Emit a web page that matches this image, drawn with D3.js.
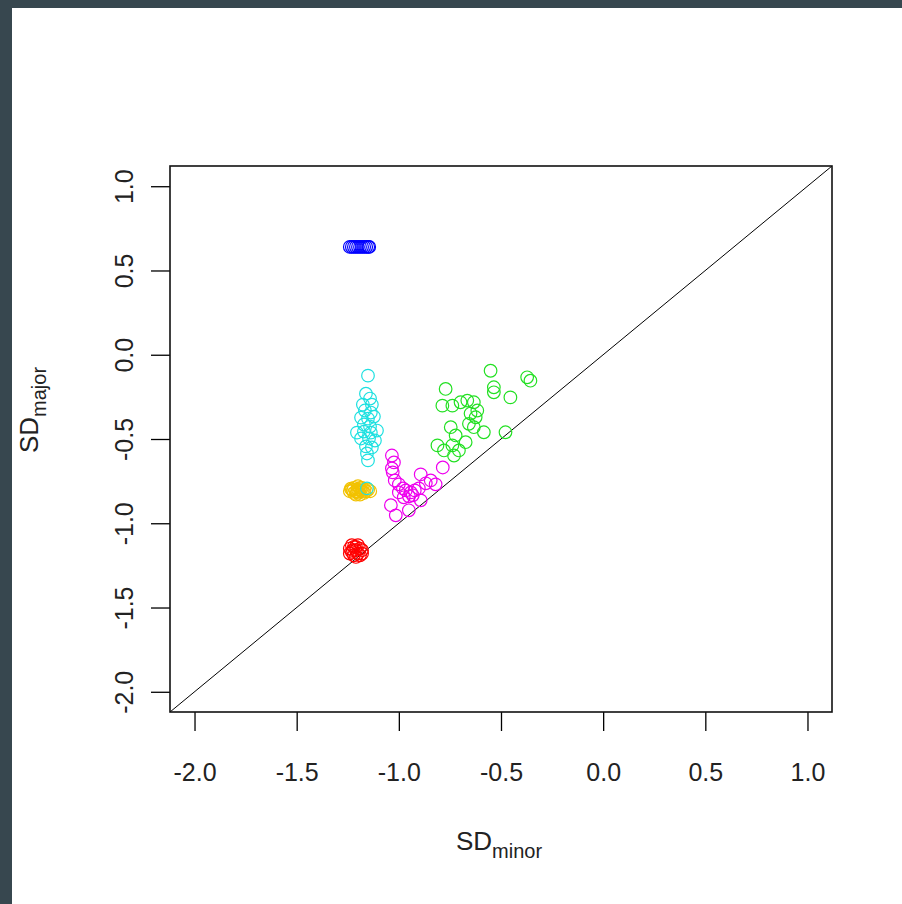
<!DOCTYPE html>
<html>
<head>
<meta charset="utf-8">
<script src="https://cdn.jsdelivr.net/npm/d3@7"></script>
<style>
  html, body { margin: 0; padding: 0; background: #37474f; }
  svg { display: block; }
</style>
</head>
<body>
<script>
// Axis ticks
const xTicks = [-2.0, -1.5, -1.0, -0.5, 0.0, 0.5, 1.0];
const yTicks = [-2.0, -1.5, -1.0, -0.5, 0.0, 0.5, 1.0];

// Groups: [SD_minor, SD_major] pairs
const bluePts = [
  [-1.24, 0.64], [-1.23, 0.64], [-1.22, 0.64], [-1.21, 0.64], [-1.20, 0.64],
  [-1.19, 0.64], [-1.18, 0.64], [-1.17, 0.64], [-1.16, 0.64], [-1.15, 0.64],
  [-1.145, 0.64]
];
const yellowPts = [
  [-1.23, -0.80], [-1.22, -0.79], [-1.21, -0.81], [-1.20, -0.80], [-1.19, -0.79],
  [-1.18, -0.81], [-1.21, -0.83], [-1.19, -0.83], [-1.22, -0.82], [-1.17, -0.80],
  [-1.20, -0.78], [-1.24, -0.81], [-1.16, -0.81], [-1.18, -0.79], [-1.20, -0.82],
  [-1.15, -0.80], [-1.14, -0.81], [-1.17, -0.82], [-1.235, -0.795], [-1.19, -0.805],
  [-1.205, -0.815], [-1.225, -0.805]
];
const redPts = [
  [-1.24, -1.15], [-1.23, -1.17], [-1.22, -1.14], [-1.21, -1.16], [-1.20, -1.13],
  [-1.19, -1.15], [-1.20, -1.18], [-1.22, -1.19], [-1.24, -1.18], [-1.21, -1.20],
  [-1.18, -1.16], [-1.19, -1.19], [-1.23, -1.13], [-1.21, -1.14], [-1.18, -1.18],
  [-1.225, -1.16]
];
const cyanPts = [
  [-1.151, -0.124], [-1.161, -0.231], [-1.141, -0.260], [-1.176, -0.296], [-1.132, -0.296],
  [-1.166, -0.331], [-1.137, -0.343], [-1.185, -0.373], [-1.151, -0.379], [-1.122, -0.367],
  [-1.171, -0.414], [-1.141, -0.426], [-1.205, -0.462], [-1.171, -0.456], [-1.137, -0.462],
  [-1.107, -0.450], [-1.185, -0.497], [-1.146, -0.497], [-1.117, -0.509], [-1.161, -0.544],
  [-1.132, -0.550], [-1.156, -0.586], [-1.151, -0.627], [-1.156, -0.793]
];
const magentaPts = [
  [-1.034, -0.598], [-1.024, -0.639], [-1.034, -0.675], [-1.030, -0.698], [-1.020, -0.746],
  [-1.000, -0.769], [-0.980, -0.793], [-1.000, -0.817], [-0.966, -0.805], [-0.941, -0.817],
  [-0.922, -0.805], [-0.902, -0.793], [-0.932, -0.834], [-0.951, -0.840], [-0.976, -0.846],
  [-0.893, -0.710], [-0.844, -0.746], [-0.820, -0.769], [-0.785, -0.669], [-1.039, -0.893],
  [-1.015, -0.953], [-0.951, -0.923], [-0.893, -0.864], [-0.868, -0.763]
];
const greenPts = [
  [-0.551, -0.095], [-0.372, -0.134], [-0.356, -0.154], [-0.535, -0.193], [-0.535, -0.223],
  [-0.454, -0.253], [-0.771, -0.203], [-0.787, -0.302], [-0.738, -0.302], [-0.698, -0.282],
  [-0.665, -0.272], [-0.633, -0.282], [-0.616, -0.331], [-0.649, -0.349], [-0.624, -0.371],
  [-0.657, -0.410], [-0.633, -0.430], [-0.584, -0.460], [-0.478, -0.460], [-0.746, -0.430],
  [-0.722, -0.479], [-0.811, -0.538], [-0.779, -0.568], [-0.738, -0.538], [-0.706, -0.568],
  [-0.673, -0.519], [-0.730, -0.598]
];

const groups = [
  { pts: bluePts, color: "#0000ff" },
  { pts: yellowPts, color: "#f2c200" },
  { pts: redPts, color: "#ff0000" },
  { pts: cyanPts, color: "#1de0e0" },
  { pts: magentaPts, color: "#ee00ee" },
  { pts: greenPts, color: "#22e022" }
];

const W = 902, H = 904;
const plot = { left: 170, right: 832, top: 166, bottom: 712 };
const lim = [-2.12, 1.12];

const x = d3.scaleLinear().domain(lim).range([plot.left, plot.right]);
const y = d3.scaleLinear().domain(lim).range([plot.bottom, plot.top]);

const svg = d3.select("body").append("svg").attr("width", W).attr("height", H);

// White panel inside the dark frame
svg.append("rect").attr("x", 12).attr("y", 8).attr("width", W - 12).attr("height", H - 8)
  .attr("fill", "#ffffff");

const font = "'Liberation Sans', Arial, sans-serif";
const tickFont = 25;
const fmt = d => d3.format(".1f")(d).replace("\u2212", "-");

// Clip for the reference line
svg.append("clipPath").attr("id", "clip").append("rect")
  .attr("x", plot.left).attr("y", plot.top)
  .attr("width", plot.right - plot.left).attr("height", plot.bottom - plot.top);

// y = x reference line
svg.append("line")
  .attr("clip-path", "url(#clip)")
  .attr("x1", x(lim[0])).attr("y1", y(lim[0]))
  .attr("x2", x(lim[1])).attr("y2", y(lim[1]))
  .attr("stroke", "#000").attr("stroke-width", 1);

// Points
groups.forEach(g => {
  svg.append("g").selectAll("circle").data(g.pts).join("circle")
    .attr("cx", d => x(d[0])).attr("cy", d => y(d[1]))
    .attr("r", 6.3)
    .attr("fill", "none")
    .attr("stroke", g.color)
    .attr("stroke-width", 1.2);
});

// Bottom axis
const xAxis = d3.axisBottom(x).tickValues(xTicks).tickSize(19).tickPadding(32).tickFormat(fmt);
const gx = svg.append("g").attr("transform", `translate(0,${plot.bottom})`).call(xAxis);
gx.select(".domain").remove();
gx.selectAll(".tick line").attr("stroke", "#000").attr("stroke-width", 1.3);
gx.selectAll(".tick text").attr("font-family", font).attr("font-size", tickFont).attr("fill", "#222");

// Left axis, labels rotated to read upward
const yAxis = d3.axisLeft(y).tickValues(yTicks).tickSize(19).tickFormat(fmt);
const gy = svg.append("g").attr("transform", `translate(${plot.left},0)`).call(yAxis);
gy.select(".domain").remove();
gy.selectAll(".tick line").attr("stroke", "#000").attr("stroke-width", 1.3);
gy.selectAll(".tick text")
  .attr("font-family", font).attr("font-size", tickFont).attr("fill", "#222")
  .attr("x", null).attr("dy", null)
  .attr("text-anchor", "middle")
  .attr("transform", "translate(-37,0) rotate(-90)");

// Plot frame
svg.append("rect")
  .attr("x", plot.left).attr("y", plot.top)
  .attr("width", plot.right - plot.left).attr("height", plot.bottom - plot.top)
  .attr("fill", "none").attr("stroke", "#111").attr("stroke-width", 1.6);

// Axis titles with subscripts
const xt = svg.append("text")
  .attr("x", 499).attr("y", 850)
  .attr("text-anchor", "middle")
  .attr("font-family", font).attr("font-size", 26).attr("fill", "#222");
xt.append("tspan").text("SD");
xt.append("tspan").attr("dy", 8).attr("font-size", 20).text("minor");

const yt = svg.append("text")
  .attr("transform", "translate(38,410) rotate(-90)")
  .attr("text-anchor", "middle")
  .attr("font-family", font).attr("font-size", 26).attr("fill", "#222");
yt.append("tspan").text("SD");
yt.append("tspan").attr("dy", 8).attr("font-size", 20).text("major");
</script>
</body>
</html>
